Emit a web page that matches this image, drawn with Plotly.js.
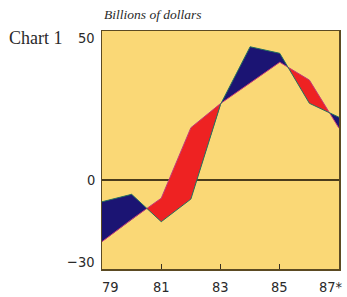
<!DOCTYPE html>
<html>
<head>
<meta charset="utf-8">
<script src="https://cdn.plot.ly/plotly-3.0.1.min.js"></script>
<style>html,body{margin:0;padding:0;background:#fff;}#chart{width:347px;height:297px;}</style>
</head>
<body>
<div id="chart"></div>
<script>
// Data
const years = [79, 80, 81, 82, 83, 84, 85, 86, 87];
const seriesA = [-7.4, -4.9, -14.1, -6.5, 25.3, 44.7, 42.5, 25.7, 21.0];   // blue when above
const seriesB = [-20.8, -13.3, -6.2, 17.5, 25.6, 32.5, 39.5, 33.5, 17.3]; // red when above
const xTickVals = [79, 81, 83, 85, 87];
const xTickText = ['79', '81', '83', '85', '87*'];
const yTickVals = [50, 0, -30];
const yTickText = ['50', '0', '\u221230'];

// Insert crossing points so the two-colour fill is exact
const xs = [], av = [], bv = [];
for (let i = 0; i < years.length; i++) {
  xs.push(years[i]); av.push(seriesA[i]); bv.push(seriesB[i]);
  if (i < years.length - 1) {
    const d0 = seriesA[i] - seriesB[i], d1 = seriesA[i + 1] - seriesB[i + 1];
    if (d0 * d1 < 0) {
      const t = d0 / (d0 - d1);
      const x = years[i] + t * (years[i + 1] - years[i]);
      const y = seriesA[i] + t * (seriesA[i + 1] - seriesA[i]);
      xs.push(x); av.push(y); bv.push(y);
    }
  }
}
const lower = av.map((v, i) => Math.min(v, bv[i]));

const BLUE = '#1b1473', RED = '#ee2222', YEL = '#fad876';
const traces = [
  {x: xs, y: lower, mode: 'lines', line: {width: 0}, hoverinfo: 'skip', showlegend: false},
  {x: xs, y: av, mode: 'lines', line: {width: 0}, fill: 'tonexty', fillcolor: BLUE, showlegend: false},
  {x: xs, y: lower, mode: 'lines', line: {width: 0}, hoverinfo: 'skip', showlegend: false},
  {x: xs, y: bv, mode: 'lines', line: {width: 0}, fill: 'tonexty', fillcolor: RED, showlegend: false},
  {x: years, y: seriesB, mode: 'lines', line: {color: '#c23a7a', width: 1}, showlegend: false},
  {x: years, y: seriesA, mode: 'lines', line: {color: '#23705e', width: 1}, showlegend: false}
];

const numFont = {family: '"Liberation Sans Narrow", "DejaVu Sans Condensed", "Liberation Sans", sans-serif', size: 14.5, color: '#2a2a2a'};
const annotations = [];
xTickVals.forEach((v, i) => {
  let anchor = 'center', shift = 0;
  if (i === 0) { anchor = 'left'; shift = -1; }
  if (i === xTickVals.length - 1) { anchor = 'right'; shift = 5; }
  annotations.push({x: v, y: 0, xref: 'x', yref: 'paper', text: xTickText[i], showarrow: false,
    xanchor: anchor, yanchor: 'middle', xshift: shift, yshift: -18, borderpad: 0, font: numFont});
});
yTickVals.forEach((v, i) => {
  let ya = 'middle';
  if (i === 0) ya = 'top';
  if (i === yTickVals.length - 1) ya = 'bottom';
  annotations.push({x: 0, y: v, xref: 'paper', yref: 'y', text: yTickText[i], showarrow: false,
    xanchor: 'right', yanchor: ya, xshift: -5, yshift: ya === 'top' ? 3 : (ya === 'bottom' ? -3 : 0), font: numFont});
});
annotations.push({x: -0.4, y: 0.97, xref: 'paper', yref: 'paper', text: 'Chart 1', showarrow: false,
  xanchor: 'left', yanchor: 'middle', font: {family: '"Liberation Serif", serif', size: 18, color: '#2a2a2a'}});
annotations.push({x: 0.0, y: 1.07, xref: 'paper', yref: 'paper', text: '<i>Billions of dollars</i>', showarrow: false,
  xanchor: 'left', yanchor: 'middle', font: {family: '"Liberation Serif", serif', size: 13.5, color: '#2a2a2a'}});

const layout = {
  width: 347, height: 297,
  margin: {l: 102, r: 8, t: 31, b: 28},
  paper_bgcolor: '#ffffff', plot_bgcolor: YEL,
  xaxis: {range: [79, 87], showgrid: false, zeroline: false, showline: true, mirror: true,
    linecolor: '#5b4a22', linewidth: 1.5, ticks: 'inside', tickvals: [81, 83, 85], ticklen: 5,
    tickcolor: '#3a3020', tickwidth: 1, showticklabels: false, fixedrange: true},
  yaxis: {range: [-30, 50], showgrid: false, zeroline: true, zerolinecolor: '#4a3c1c', zerolinewidth: 1.5,
    showline: true, mirror: true, linecolor: '#5b4a22', linewidth: 1.5, ticks: '', showticklabels: false, fixedrange: true},
  annotations: annotations,
  showlegend: false
};
Plotly.newPlot('chart', traces, layout, {displayModeBar: false, staticPlot: true});
</script>
</body>
</html>
